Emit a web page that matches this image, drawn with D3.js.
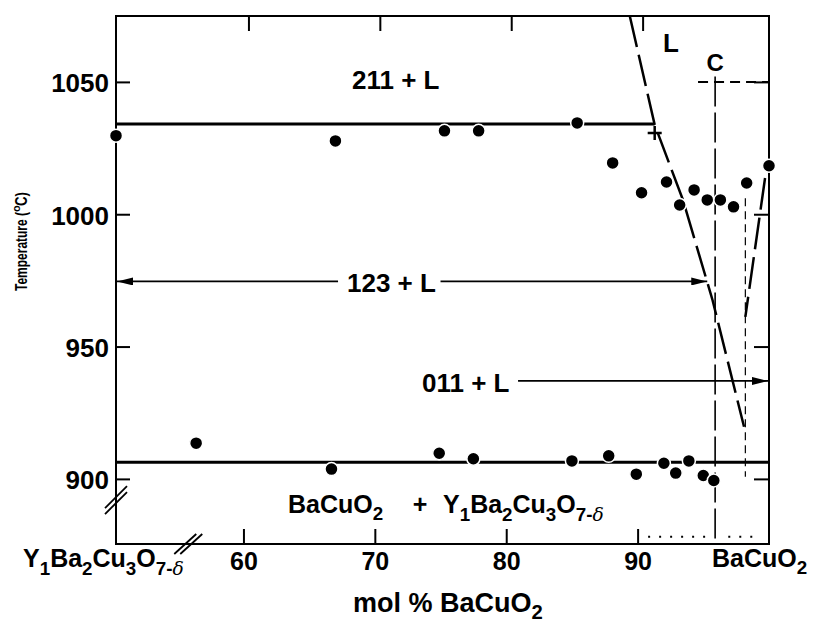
<!DOCTYPE html>
<html lang="en">
<head>
<meta charset="UTF-8">
<title>BaCuO2 - Y1Ba2Cu3O7 phase diagram</title>
<script src="https://d3js.org/d3.v7.min.js"></script>
<style>
  body { margin: 0; background: #fff; }
  svg text { font-family: "Liberation Sans", Arial, Helvetica, sans-serif; font-weight: bold; fill: #000; }
</style>
</head>
<body>
<div id="chart"></div>
<script>
// measured points (mol % BaCuO2, temperature in C)
const liquidX = [50.3, 67.0, 75.3, 77.9, 85.4, 88.1, 90.3, 92.2, 93.2, 94.3, 95.3, 96.3, 97.3, 98.3, 100.0];
const liquidT = [1029.7, 1027.7, 1031.5, 1031.5, 1034.5, 1019.4, 1008.1, 1012.2, 1003.5, 1009.2, 1005.4, 1005.4, 1002.8, 1011.8, 1018.3];
const solidX = [56.4, 66.7, 74.9, 77.5, 85.0, 87.8, 89.9, 92.0, 92.9, 93.9, 95.0, 95.8];
const solidT = [913.5, 903.7, 909.7, 907.6, 906.8, 908.7, 901.8, 905.9, 902.2, 906.8, 901.3, 899.4];

// phase boundaries
const periT = 1034.1;      // 211 + L boundary
const periEnd = 91.3;
const plusX = 91.3, plusT = 1030.7;
const eutT = 906.3;        // BaCuO2 + 123 boundary
const liqLeftX = [89.4, 91.3, 93.45, 95.7, 98.1];
const liqLeftT = [1075, 1033.8, 1005.4, 967.6, 919.7];
const liqRightX = [99.7, 98.2];
const liqRightT = [1013.7, 961.2];
const compC = 95.9, compTop = 1052, compCapT = 1050, compCapX = 94.6;
const vertX = 98.2, vertT = [1006, 900.8];
const arrow123T = 974.6, arrow011T = 937.0;

// axis ticks
const xTicks = [60, 70, 80, 90];
const yTicks = [900, 950, 1000, 1050];

const W = 815, H = 622;
const svg = d3.select("#chart").append("svg").attr("width", W).attr("height", H);
svg.append("rect").attr("width", W).attr("height", H).attr("fill", "#fff");

const x = d3.scaleLinear().domain([50.3, 100]).range([116, 769]);
const y = d3.scaleLinear().domain([875.4, 1074.9]).range([544, 16]);
const [x0, x1] = x.range();
const [y0, y1] = y.range();

const defs = svg.append("defs");
defs.append("marker").attr("id", "arrEnd")
  .attr("markerUnits", "userSpaceOnUse")
  .attr("viewBox", "0 0 16 8").attr("refX", 16).attr("refY", 4)
  .attr("markerWidth", 16).attr("markerHeight", 8).attr("orient", "auto")
  .append("path").attr("d", "M0,0 L16,4 L0,8 Z").attr("fill", "#000");

// axes, ticks pointing inward
const axLeft = svg.append("g").attr("transform", `translate(${x0},0)`)
  .call(d3.axisLeft(y).tickValues(yTicks).tickFormat(d3.format("d"))
    .tickSizeInner(-14).tickSizeOuter(0).tickPadding(7));
axLeft.selectAll("text").attr("font-size", 26).attr("dy", "0.38em");
const axRight = svg.append("g").attr("transform", `translate(${x1},0)`)
  .call(d3.axisRight(y).tickValues(yTicks).tickSizeInner(-15).tickSizeOuter(0).tickFormat(""));
const axBottom = svg.append("g").attr("transform", `translate(0,${y0})`)
  .call(d3.axisBottom(x).tickValues(xTicks).tickSizeInner(-15).tickSizeOuter(0).tickPadding(8));
axBottom.selectAll("text").attr("font-size", 25);
const axTop = svg.append("g").attr("transform", `translate(5,${y1})`)
  .call(d3.axisTop(x).tickValues(xTicks).tickSizeInner(-15).tickSizeOuter(0).tickFormat(""));
[axLeft, axRight, axBottom, axTop].forEach(g => {
  g.select(".domain").remove();
  g.selectAll("line").attr("stroke", "#000").attr("stroke-width", 2);
  g.selectAll("text").attr("fill", "#000").attr("font-family", null);
});

svg.append("rect").attr("x", x0).attr("y", y1).attr("width", x1 - x0).attr("height", y0 - y1)
  .attr("fill", "none").attr("stroke", "#000").attr("stroke-width", 2);

// axis breaks
const by = y(892), bx = x(55.8);
[-3, 3].forEach(o => {
  svg.append("line").attr("x1", x0 - 11).attr("y1", by + o + 11).attr("x2", x0 + 11).attr("y2", by + o - 11)
    .attr("stroke", "#000").attr("stroke-width", 1.8);
  svg.append("line").attr("x1", bx + o - 11).attr("y1", y0 + 10).attr("x2", bx + o + 11).attr("y2", y0 - 10)
    .attr("stroke", "#000").attr("stroke-width", 1.8);
});

const line = d3.line().x(d => x(d[0])).y(d => y(d[1]));
const zip = (a, b) => a.map((v, i) => [v, b[i]]);

// solid boundaries
svg.append("path").attr("d", line([[x.domain()[0], periT], [periEnd, periT]]))
  .attr("stroke", "#000").attr("stroke-width", 3).attr("fill", "none");
svg.append("path").attr("d", line([[x.domain()[0], eutT], [x.domain()[1], eutT]]))
  .attr("stroke", "#000").attr("stroke-width", 3).attr("fill", "none");

// liquidus (dashed)
svg.append("path").attr("d", line(zip(liqLeftX, liqLeftT)))
  .attr("stroke", "#000").attr("stroke-width", 2.5).attr("fill", "none").attr("stroke-dasharray", "32,8");
svg.append("path").attr("d", line(zip(liqRightX, liqRightT)))
  .attr("stroke", "#000").attr("stroke-width", 2.5).attr("fill", "none").attr("stroke-dasharray", "32,8");

// composition C
svg.append("path").attr("d", line([[compC, compTop], [compC, y.domain()[0]]]))
  .attr("stroke", "#000").attr("stroke-width", 1.6).attr("fill", "none").attr("stroke-dasharray", "30,6");
svg.append("path").attr("d", line([[compCapX, compCapT], [x.domain()[1], compCapT]]))
  .attr("stroke", "#000").attr("stroke-width", 2).attr("fill", "none").attr("stroke-dasharray", "10,6");
svg.append("path").attr("d", line([[vertX, vertT[0]], [vertX, vertT[1]]]))
  .attr("stroke", "#000").attr("stroke-width", 1.2).attr("fill", "none").attr("stroke-dasharray", "8,5");

// dotted segments along the bottom
svg.append("path").attr("d", line([[90.8, 878.1], [95.2, 878.1]]))
  .attr("stroke", "#000").attr("stroke-width", 2).attr("stroke-dasharray", "2,9");
svg.append("path").attr("d", line([[96.9, 878.1], [99.3, 878.1]]))
  .attr("stroke", "#000").attr("stroke-width", 2).attr("stroke-dasharray", "2,9");

// arrows
svg.append("line").attr("x1", x(67.2)).attr("x2", x0 + 1).attr("y1", y(arrow123T)).attr("y2", y(arrow123T))
  .attr("stroke", "#000").attr("stroke-width", 1.8).attr("marker-end", "url(#arrEnd)");
svg.append("line").attr("x1", x(75.0)).attr("x2", x(95.3)).attr("y1", y(arrow123T)).attr("y2", y(arrow123T))
  .attr("stroke", "#000").attr("stroke-width", 1.8).attr("marker-end", "url(#arrEnd)");
svg.append("line").attr("x1", x(80.9)).attr("x2", x1 - 1).attr("y1", y(arrow011T)).attr("y2", y(arrow011T))
  .attr("stroke", "#000").attr("stroke-width", 1.8).attr("marker-end", "url(#arrEnd)");

// data points
svg.append("g").selectAll("circle").data(zip(liquidX, liquidT).concat(zip(solidX, solidT))).join("circle")
  .attr("cx", d => x(d[0])).attr("cy", d => y(d[1])).attr("r", 6.5)
  .attr("fill", "#000").attr("stroke", "#fff").attr("stroke-width", 1.5);

// plus marker
const px = x(plusX), py = y(plusT);
svg.append("path").attr("d", `M${px - 7},${py} H${px + 7} M${px},${py - 7} V${py + 7}`)
  .attr("stroke", "#000").attr("stroke-width", 2.5);

// labels
function label(tx, ty, parts, size, anchor) {
  const t = svg.append("text").attr("x", tx).attr("y", ty).attr("font-size", size)
    .attr("text-anchor", anchor || "start");
  parts.forEach(p => {
    const s = t.append("tspan").text(p[0]);
    if (p[1] === "sub") s.attr("font-size", size * 0.75).attr("dy", size * 0.27);
  });
  return t;
}

function formulaLabel(tx, ty, size) {
  const t = svg.append("text").attr("x", tx).attr("y", ty).attr("font-size", size);
  const parts = [["Y", 0], ["1", 1], ["Ba", 0], ["2", 1], ["Cu", 0], ["3", 1], ["O", 0], ["7-", 1], ["δ", 2]];
  let lvl = 0;
  parts.forEach(p => {
    const s = t.append("tspan").text(p[0]);
    const sub = p[1] > 0 ? 1 : 0;
    if (sub !== lvl) s.attr("dy", (sub - lvl) * size * 0.3);
    lvl = sub;
    if (p[1] > 0) s.attr("font-size", size * 0.75);
    if (p[1] === 2) s.attr("font-family", "DejaVu Serif").attr("font-style", "italic").attr("font-weight", "normal");
  });
}

label(352, 89, [["211 + L"]], 26);
label(347, 292, [["123 + L"]], 26);
label(422, 392, [["011 + L"]], 26);
label(663, 52, [["L"]], 26);
label(x(compC), 71, [["C"]], 24, "middle");
label(288, 513, [["BaCuO"], ["2", "sub"]], 25);
label(420, 513, [["+"]], 25, "middle");
formulaLabel(443, 513, 25);
formulaLabel(23, 567, 25);
label(712, 567, [["BaCuO"], ["2", "sub"]], 25);
label(353, 612, [["mol % BaCuO"], ["2", "sub"]], 27);

// y axis title, drawn as three pieces so the superscript keeps its size
const yt = svg.append("g").attr("transform", "translate(27,242) rotate(-90)");
yt.append("text").attr("x", -49).attr("font-size", 17)
  .attr("textLength", 79).attr("lengthAdjust", "spacingAndGlyphs").text("Temperature (");
yt.append("text").attr("x", 30).attr("y", -7).attr("font-size", 11).text("o");
yt.append("text").attr("x", 36).attr("font-size", 17)
  .attr("textLength", 14).attr("lengthAdjust", "spacingAndGlyphs").text("C)");
</script>
</body>
</html>
